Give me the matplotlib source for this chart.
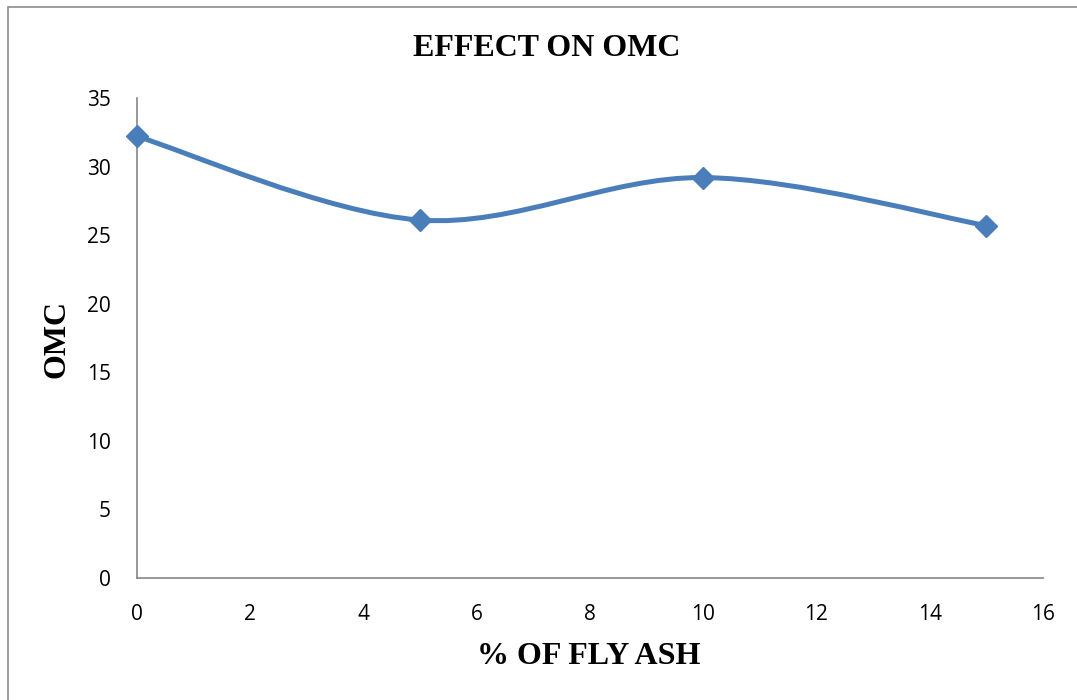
import matplotlib.pyplot as plt
from matplotlib.path import Path
from matplotlib.patches import PathPatch, Rectangle

# datos
fly_ash = [0, 5, 10, 15]
omc = [32.2, 26.1, 29.2, 25.7]
x_ticks = [0, 2, 4, 6, 8, 10, 12, 14, 16]
y_ticks = [0, 5, 10, 15, 20, 25, 30, 35]

color = '#4A7EBB'
serif = 'Liberation Serif'
sans = 'Open Sans'


def smooth_path(xs, ys):
    # curva suavizada tipo Excel (Catmull-Rom en Bezier cúbicas)
    pts = list(zip(xs, ys))
    verts = [pts[0]]
    codes = [Path.MOVETO]
    n = len(pts)
    for i in range(n - 1):
        p0 = pts[i - 1] if i > 0 else pts[i]
        p1 = pts[i]
        p2 = pts[i + 1]
        p3 = pts[i + 2] if i + 2 < n else pts[i + 1]
        c1 = (p1[0] + (p2[0] - p0[0]) / 6, p1[1] + (p2[1] - p0[1]) / 6)
        c2 = (p2[0] - (p3[0] - p1[0]) / 6, p2[1] - (p3[1] - p1[1]) / 6)
        verts += [c1, c2, p2]
        codes += [Path.CURVE4] * 3
    return Path(verts, codes)


fig = plt.figure(figsize=(10.77, 7), dpi=100)
ax = fig.add_axes([137 / 1077, 1 - 578 / 700, (1043 - 137) / 1077, (578 - 98) / 700])

# borde del gráfico
fig.patches.append(Rectangle((8 / 1077, -0.05), 1.1, 1 - 7 / 700 + 0.05,
                             transform=fig.transFigure, fill=False,
                             edgecolor='#8c8c8c', linewidth=1.2))

ax.add_patch(PathPatch(smooth_path(fly_ash, omc), facecolor='none',
                       edgecolor=color, linewidth=3.6, capstyle='round', zorder=3))
ax.plot(fly_ash, omc, linestyle='none', marker='D', markersize=11,
        color=color, zorder=4, clip_on=False)

ax.set_xlim(0, 16)
ax.set_ylim(0, 35)
ax.set_xticks(x_ticks)
ax.set_yticks(y_ticks)
ax.tick_params(length=0, pad=19, labelsize=15)
for lbl in ax.get_xticklabels() + ax.get_yticklabels():
    lbl.set_fontfamily(sans)

for s in ['top', 'right']:
    ax.spines[s].set_visible(False)
for s in ['left', 'bottom']:
    ax.spines[s].set_color('#868686')
    ax.spines[s].set_linewidth(1.2)

fig.text(547 / 1077, 1 - 48 / 700, 'EFFECT ON OMC', ha='center', va='center',
         fontfamily=serif, fontweight='bold', fontsize=23)
fig.text(589 / 1077, 1 - 656 / 700, '% OF FLY ASH', ha='center', va='center',
         fontfamily=serif, fontweight='bold', fontsize=23)
fig.text(57 / 1077, 1 - 339 / 700, 'OMC', ha='center', va='center', rotation=90,
         fontfamily=serif, fontweight='bold', fontsize=23)

fig.savefig('out.png', dpi=100)
